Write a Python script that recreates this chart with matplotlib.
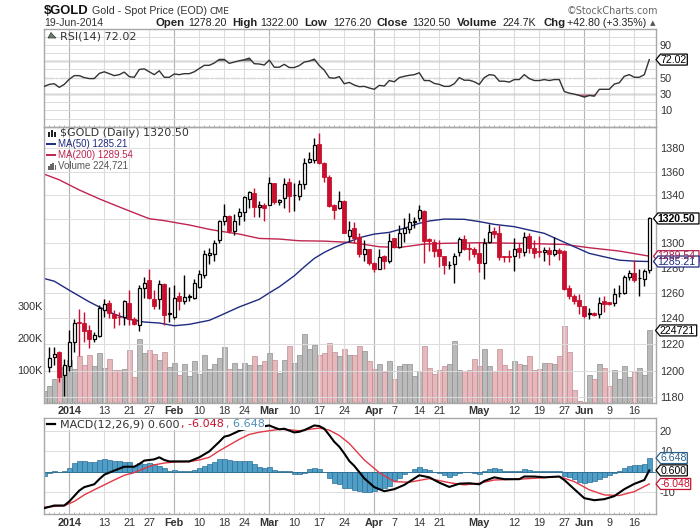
import matplotlib

matplotlib.use("Agg")

import matplotlib.pyplot as plt
import numpy as np
from matplotlib.lines import Line2D
from matplotlib.patches import Polygon, Rectangle
from matplotlib.ticker import FixedLocator, FuncFormatter, NullFormatter

plt.rcParams["font.family"] = ["Liberation Sans", "DejaVu Sans"]

# daily candles, bar 0 is the first one on screen, bar 120 is 19-Jun
opens = [1202.5, 1210.2, 1214, 1196.7, 1203.8, 1221.7, 1236.9, 1236.7, 1230.7, 1224.3,
         1226.3, 1246.9, 1252.4, 1243.8, 1241.5, 1241.1, 1252.4, 1239.8, 1235.1, 1263.6,
         1270.2, 1255.6, 1255.6, 1267.5, 1243.8, 1241.1, 1257.4, 1253.7, 1257.2, 1256.4,
         1264.9, 1274.2, 1290.4, 1291, 1302.7, 1318.7, 1322.6, 1310.1, 1322.9, 1325.7,
         1336.9, 1341.9, 1329.8, 1331.8, 1331.8, 1350, 1334.6, 1337.4, 1350.9, 1340,
         1339.6, 1349.2, 1368.2, 1370.2, 1383.7, 1367.3, 1355.8, 1331.8, 1329, 1335.1,
         1306, 1312.4, 1305.2, 1291.5, 1295, 1284.2, 1279.5, 1289.9, 1285.8, 1304,
         1296.9, 1308.2, 1311.8, 1317.7, 1320.6, 1326.8, 1303.5, 1301.3, 1295, 1289.9,
         1282, 1283.6, 1293.1, 1303.2, 1295.8, 1295, 1291.8, 1284.4, 1300.8, 1310.1,
         1308.2, 1289.6, 1289.6, 1289.3, 1295.8, 1293.1, 1306, 1295.8, 1293.4, 1292.6,
         1294.5, 1291.5, 1294.5, 1293.7, 1263.6, 1258, 1254.7, 1249.5, 1243.7, 1244.3,
         1243.8, 1253.5, 1253, 1252.2, 1259.8, 1260.1, 1272.9, 1276.3, 1271.9, 1271.5,
         1278.2]
highs = [1217.9, 1217.9, 1214.5, 1208.9, 1230.7, 1239.8, 1247.7, 1245, 1234.6, 1229.4,
         1250.3, 1255, 1254.3, 1246.4, 1245, 1254.3, 1262.2, 1241.1, 1266.2, 1272.9,
         1279.5, 1262.2, 1270.2, 1268, 1264.9, 1266.2, 1260.9, 1274.2, 1259.5, 1271,
         1278.2, 1294.5, 1295.9, 1302.7, 1319.3, 1332.6, 1323.4, 1324, 1329, 1339.5,
         1343.6, 1345.8, 1335, 1333, 1355.8, 1350.2, 1336.8, 1354.3, 1354.3, 1350,
         1353, 1371.7, 1376.8, 1389.5, 1393.2, 1368.2, 1357.2, 1332.4, 1343.6, 1335.7,
         1318.4, 1317.3, 1308.2, 1302.7, 1295, 1285, 1295.3, 1290.2, 1308.2, 1304.6,
         1315.1, 1321.2, 1324.9, 1322, 1331.8, 1327.6, 1304, 1303.5, 1302.7, 1290,
         1285.5, 1291.8, 1305.4, 1306.8, 1300, 1297.2, 1301.3, 1304.6, 1315.6, 1313.7,
         1315.1, 1290, 1294.5, 1304, 1300, 1309.5, 1308.2, 1302.7, 1306, 1297.2,
         1297.2, 1304.8, 1295.8, 1294.5, 1266.7, 1259.6, 1259.6, 1249.7, 1248.2, 1245.1,
         1257, 1257.7, 1253.2, 1263.6, 1266.2, 1274.2, 1278.2, 1286.3, 1279.5, 1279,
         1322]
lows = [1198.7, 1204, 1191.2, 1180.7, 1200, 1214, 1211.4, 1221.7, 1217, 1221.7,
        1225.5, 1241.1, 1240.4, 1232.5, 1234.6, 1234.6, 1234.6, 1234.6, 1230, 1256.1,
        1255.6, 1247.2, 1247.7, 1235.1, 1237.2, 1239.8, 1246.4, 1251.6, 1254, 1255.6,
        1263.6, 1272.3, 1283.6, 1285.8, 1300, 1315.1, 1308.2, 1306.8, 1315.1, 1318.4,
        1329, 1322, 1322, 1318.4, 1331.5, 1332.4, 1331.8, 1329, 1326.2, 1326.8,
        1336, 1345.3, 1367.3, 1367.3, 1366.5, 1351.5, 1330.4, 1320, 1328.4, 1308.2,
        1301.3, 1300, 1289, 1285.5, 1282.3, 1276.9, 1278.8, 1279.5, 1284.4, 1295.8,
        1296.4, 1300.8, 1308.2, 1312.4, 1318.7, 1284.4, 1293.7, 1289, 1281, 1275.5,
        1279, 1268.3, 1289.9, 1294.5, 1286.3, 1289, 1276.9, 1271.5, 1300, 1304,
        1286.3, 1285, 1285, 1277.4, 1288.2, 1289.9, 1291.8, 1288.2, 1289, 1285.8,
        1282.3, 1289.9, 1286.3, 1262.2, 1255.6, 1251.1, 1243.8, 1240.4, 1239.3, 1242,
        1240.4, 1245.1, 1250.3, 1249.8, 1257, 1259.6, 1270.2, 1268.9, 1257.7, 1265.7,
        1276.2]
closes = [1209.7, 1212.7, 1195, 1204.3, 1221.7, 1236.7, 1236.4, 1230, 1224.3, 1226.8,
          1248.5, 1251.6, 1244.3, 1240.4, 1241, 1253.5, 1239.8, 1235.4, 1263.6, 1268.3,
          1256.1, 1249.5, 1267.5, 1243, 1244.2, 1256.4, 1253.7, 1256.9, 1257.6, 1268,
          1275, 1291.2, 1291.8, 1300, 1318.7, 1322.6, 1310.1, 1318.4, 1325.7, 1338.4,
          1342.4, 1329.8, 1331.8, 1329, 1350, 1334, 1336.3, 1349.8, 1339.6, 1340.2,
          1349.2, 1367.3, 1370.8, 1383, 1367, 1355, 1330.7, 1327.9, 1334.8, 1308.7,
          1311, 1304.6, 1291, 1295, 1284.2, 1279.3, 1289, 1285.8, 1302.1, 1296.6,
          1308.2, 1312.4, 1317.9, 1318, 1327.3, 1302.1, 1301.8, 1294, 1289.6, 1282.3,
          1282.2, 1289.9, 1303.2, 1295.5, 1295.2, 1291, 1284.4, 1300, 1309, 1307.4,
          1289, 1288.5, 1288.5, 1295, 1293.1, 1305.4, 1295.8, 1292.3, 1292.8, 1294.5,
          1291.2, 1294.2, 1292.3, 1262.8, 1257.4, 1253.7, 1249.5, 1241.6, 1244, 1242.5,
          1252.2, 1251.1, 1251.1, 1259.6, 1260.1, 1272.9, 1276.3, 1270.2, 1272.1, 1277.4,
          1320.5]

# moving averages, read every few bars
ma50_bars = [-1, 1, 4, 8, 10, 13, 16, 19, 22, 25, 28, 32, 34, 38, 42, 44, 46, 49, 51, 53,
             55, 57, 59, 60, 62, 65, 68, 71, 74, 76, 79, 83, 86, 89, 93, 96, 99, 102, 105,
             108, 111, 114, 117, 120]
ma50_vals = [1271.5, 1269.4, 1262.2, 1253, 1249, 1243.3, 1239.3, 1237.2, 1236.4, 1234.3,
             1235.4, 1238.5, 1241.9, 1249, 1255, 1260.1, 1264.9, 1273.7, 1280.9, 1287.7,
             1292.6, 1296.6, 1300, 1301.3, 1304.6, 1307.6, 1309, 1312.4, 1316.5, 1318.4,
             1320, 1319.8, 1317.9, 1315.6, 1313.7, 1310.9, 1308.2, 1302.7, 1297.2, 1291.8,
             1289, 1286.3, 1285.5, 1285.21]
ma200_bars = [-1, 2, 6, 10, 13, 16, 20, 23, 26, 28, 32, 34, 38, 42, 46, 50, 55, 60, 63, 66,
              70, 75, 79, 86, 94, 103, 108, 114, 120]
ma200_vals = [1357.8, 1353, 1344.4, 1336.9, 1331.8, 1326.8, 1320.3, 1318.7, 1316.5, 1315.1,
              1311.5, 1310.1, 1307.6, 1304, 1303.5, 1302.1, 1301.8, 1300.8, 1299.1, 1297.2,
              1296.6, 1299.4, 1300, 1300.5, 1300, 1299.1, 1296.4, 1293.7, 1289.54]

# volume in thousands, starts one bar left of the first candle
volumes = [37, 53, 74, 79, 111, 132, 105, 144, 118, 147, 113, 153, 108, 135, 100, 100, 105,
           163, 79, 198, 153, 163, 151, 132, 156, 111, 123, 86, 121, 84, 128, 89, 147, 105,
           119, 139, 172, 105, 122, 103, 124, 118, 144, 116, 128, 154, 132, 93, 134, 175,
           122, 147, 213, 168, 179, 147, 153, 187, 158, 144, 168, 147, 147, 176, 160, 128,
           105, 119, 95, 128, 74, 113, 121, 119, 84, 97, 176, 108, 89, 100, 113, 121, 192,
           102, 97, 100, 137, 113, 166, 113, 99, 168, 116, 103, 128, 119, 116, 144, 102,
           105, 124, 124, 121, 144, 239, 156, 39, 5, 2, 87, 72, 121, 108, 53, 100, 74, 114,
           79, 95, 108, 87, 224.721]

# one value per bar, from bar -1
rsi = [39.3, 41.7, 42.5, 38.1, 41.7, 48, 52.4, 52.4, 50, 48.8, 48.8, 55.1, 57.1, 54.8, 52.4,
       53.6, 56.7, 51.2, 50.4, 59.9, 60.7, 57.1, 53.6, 58.3, 50.4, 50.4, 54.4, 53.6, 54.8,
       54.8, 57.1, 61.1, 65, 65, 67.8, 72.2, 72.2, 67.4, 69, 70.6, 71.8, 73.8, 67, 66.6,
       65.4, 71.4, 62.7, 62.7, 66.2, 62.3, 62.3, 64.7, 69, 70.2, 72.6, 64.7, 59.1, 50, 49.2,
       51.2, 42.5, 44.1, 40.9, 38.9, 39.3, 37.3, 35.7, 40.5, 39.7, 46.4, 44.9, 50, 51.6,
       52.8, 53.6, 55.9, 46.4, 46.4, 42.9, 41.7, 39.3, 39.3, 42.5, 50, 46.8, 46.8, 44.9,
       41.7, 50, 53.6, 52.8, 45.6, 45.6, 44.5, 47.6, 47.6, 53.6, 48.8, 46.4, 46.4, 47.6,
       46.4, 47.6, 47.6, 33, 31, 29.8, 28.2, 26.2, 28.2, 27.4, 35.7, 35.7, 35.7, 42.1, 43.7,
       51.6, 53.6, 50.4, 50.4, 53.6, 72.02]
macd_hist = [-2.1, -0.8, 0.3, -0.2, 0.2, 1.6, 4.1, 5.2, 5.2, 4.7, 4.7, 5.7, 6.2, 5.9, 5.4, 5,
             4.6, 4.6, 2.9, 4.1, 3.7, 4.1, 3.6, 2.9, 1.6, 0.5, 0.8, 0.3, 0.2, 0.3, 0.8, 1.6,
             2.8, 3.7, 4.6, 6, 6.2, 5.7, 5.2, 5, 5, 5, 3.6, 2.1, 1.6, 2.3, 1, 0.5, 0.5, 0.1,
             -1.1, -1.1, -0.5, 1.1, 1.8, 1.1, 0, -3.3, -5.4, -6, -7.8, -8.1, -8.9, -9.3,
             -10.1, -10.2, -9.3, -8.6, -7.8, -7, -4.1, -3.3, -1.1, 0, 1.5, 2.3, 1.3, 0.8,
             -0.3, -0.8, -1.8, -2.4, -1.6, -0.5, -0.3, -0.3, -0.5, -1, 0.5, 1.3, 1.6, 1.1,
             0.5, 0.3, 0.3, 0.5, 1.1, 0.8, 0.5, 0.2, 0.3, 0.2, 0.3, 0.2, -2, -2.8, -3.7, -4.9,
             -5.4, -5.2, -4.4, -3.6, -2.8, -1.8, -0.8, 0.2, 1.6, 2.6, 3.1, 3.3, 3.6, 6.648]

macd_bars = [-1, 1, 3, 4, 6, 7, 9, 10, 11, 13, 15, 17, 18, 19, 21, 22, 23, 24, 28, 30, 32, 34,
             35, 36, 38, 39, 44, 45, 46, 47, 49, 50, 51, 53, 54, 55, 56, 57, 58, 59, 60, 61,
             63, 65, 67, 69, 71, 74, 76, 78, 80, 82, 84, 86, 87, 89, 91, 94, 95, 97, 99, 102,
             103, 105, 107, 109, 111, 113, 115, 117, 119, 120]
macd_vals = [-17.9, -16.6, -16.6, -14.6, -9.3, -7.6, -6.2, -3.7, -1.5, 0.5, 2.4, 2.4, 3.7, 5.4,
             6, 7, 5.7, 5, 5, 7, 9.9, 14.6, 17.1, 17.7, 20, 20.7, 22.6, 21.6, 20.7, 21, 19.2,
             19.5, 20.3, 22.6, 22.3, 21, 17.9, 14.6, 12.2, 8.9, 5.2, 2.8, -3.3, -7.6, -9.6,
             -8.6, -6.5, -1.8, -2.8, -5.4, -7.5, -5.9, -5.7, -6.2, -4.6, -2.8, -3.7, -3.7,
             -2.4, -2.4, -2.8, -2.4, -4.1, -8.6, -13, -14, -13.5, -12, -8.6, -6, -4.1, 0.6]
signal_bars = [-1, 3, 5, 7, 9, 11, 13, 15, 17, 19, 21, 23, 25, 28, 30, 32, 34, 36, 38, 40, 42,
               44, 46, 48, 50, 52, 54, 56, 58, 60, 63, 66, 69, 72, 76, 80, 83, 86, 89, 94, 98,
               102, 105, 108, 111, 114, 117, 120]
signal_vals = [-17.4, -16.7, -14.6, -11.4, -8.9, -6.5, -4.1, -1.8, -0.5, 1.6, 3.3, 4.2, 4.7,
               4.9, 5.7, 7, 10.2, 13, 15.8, 18.2, 19.3, 20, 20.7, 20.5, 20, 20.7, 21.3, 20.3,
               17.7, 13.8, 5.7, -0.5, -4.9, -5.2, -3.4, -5.4, -6.5, -5.7, -4.1, -3.7, -3.1,
               -2.4, -4.9, -8.9, -11.4, -11.7, -9.8, -6.048]

# date axis
date_bars = [4, 11, 16, 20, 25, 30, 35, 39, 44, 49, 54, 59, 65, 69, 74, 78, 86, 93, 98, 103,
             107, 112, 117]
date_labels = ["2014", "13", "21", "27", "Feb", "10", "18", "24", "Mar", "10", "17", "24", "Apr",
               "7", "14", "21", "May", "12", "19", "27", "Jun", "9", "16"]
bold_dates = ["2014", "Feb", "Mar", "Apr", "May", "Jun"]

price_ticks = [1180, 1200, 1220, 1240, 1260, 1280, 1300, 1320, 1340, 1360, 1380]
volume_ticks = [100, 200, 300]
rsi_ticks = [10, 30, 50, 70, 90]
macd_ticks = [-10, 0, 10, 20]
# these sit under a value flag on the target, so only the grid line shows
covered_ticks = [1320, 70, 0]

RED = "#c8102e"
NAVY = "#1f2a80"
CRIMSON = "#c0244f"
GRID = "#dcdcdc"
MONTH_GRID = "#b4b4b4"
FRAME = "#a8a8a8"
TEXT = "#333333"
LEGEND_FONT = "DejaVu Sans"

W, H = 700, 530
fig = plt.figure(figsize=(W / 100, H / 100), dpi=100, facecolor="white")


def panel(top, bottom):
    # axes from pixel edges measured on the target, y counted from the top
    left, right = 44.3, 656.3
    return fig.add_axes([left / W, 1 - bottom / H, (right - left) / W, (bottom - top) / H])


def tick_text(v, _=None):
    return "" if v in covered_ticks else f"{v:.0f}"


def style_panel(ax, labels=True):
    ax.set_xlim(-0.99, 121.4)
    ax.set_xticks(date_bars)
    if labels:
        ax.set_xticklabels(date_labels, fontsize=7.8, color=TEXT)
        for lab in ax.get_xticklabels():
            if lab.get_text() in bold_dates:
                lab.set_fontweight("bold")
    else:
        ax.set_xticklabels([])
    ax.set_xticks(np.arange(0, 121), minor=True)
    ax.tick_params(axis="x", which="major", length=0, pad=2.8)
    ax.tick_params(axis="x", which="minor", length=1.5, width=0.5, color="#999999", direction="in")
    for bar, lab in zip(date_bars, date_labels):
        col = MONTH_GRID if lab in bold_dates else GRID
        ax.axvline(bar, color=col, lw=0.8, zorder=0.5)
    for s in ax.spines.values():
        s.set_color(FRAME)
        s.set_linewidth(1.0)
    ax.yaxis.tick_right()
    ax.tick_params(axis="y", which="both", length=0, pad=2.5, labelsize=7.8, labelcolor=TEXT)


def px_text(x, y, s, **kw):
    kw.setdefault("va", "center")
    kw.setdefault("ha", "left")
    kw.setdefault("color", TEXT)
    return fig.text(x / W, 1 - y / H, s, **kw)


def value_tag(ax, value, label, color, right, tip=656.0, bold=False):
    # little flag on the right edge, its height comes from the axis scale
    _, y = ax.transData.transform((0, value))
    y = H - y
    pts = [(tip, y), (tip + 4.5, y - 5.5), (right, y - 5.5), (right, y + 5.5), (tip + 4.5, y + 5.5)]
    pts = [(a / W, 1 - b / H) for a, b in pts]
    fig.add_artist(Polygon(pts, closed=True, transform=fig.transFigure, facecolor="white",
                           edgecolor=color, lw=0.9, zorder=10))
    px_text(tip + 4.2, y + 0.3, label, fontsize=7.6, color=color,
            fontweight="bold" if bold else "normal", zorder=11)


# RSI panel
ax_rsi = panel(29.3, 126.7)
style_panel(ax_rsi, labels=False)
ax_rsi.set_ylim(50 - (126.7 - 78) / 0.825, 50 + (78 - 29.3) / 0.825)
ax_rsi.set_yticks(rsi_ticks)
ax_rsi.set_yticklabels([tick_text(v) for v in rsi_ticks])
ax_rsi.set_yticks(np.arange(-10, 110, 10), minor=True)
ax_rsi.grid(axis="y", which="both", color=GRID, lw=0.7, zorder=0.5)
ax_rsi.axhline(70, color="#555555", lw=0.9, zorder=1)
ax_rsi.axhline(30, color="#555555", lw=0.9, zorder=1)
ax_rsi.axhline(50, color="#555555", lw=0.8, ls=(0, (8, 2, 2, 2)), zorder=1)
rsi_x = np.arange(-1, 121)
rsi_arr = np.array(rsi)
ax_rsi.fill_between(rsi_x, 70, rsi_arr, where=rsi_arr > 70, interpolate=True, color="#6f7f6f", lw=0, zorder=2)
ax_rsi.fill_between(rsi_x, 30, rsi_arr, where=rsi_arr < 30, interpolate=True, color="#b06a78", lw=0, zorder=2)
ax_rsi.plot(rsi_x, rsi_arr, color="#333333", lw=1.0, zorder=3)

# price panel, volume sits behind the candles on its own linear scale
ax = panel(126.7, 402.5)
ax_vol = ax.twinx()
ax.set_yscale("log")
ax.set_ylim(1176.1, 1399)
style_panel(ax)
ax.yaxis.set_major_locator(FixedLocator(price_ticks))
ax.yaxis.set_major_formatter(FuncFormatter(tick_text))
ax.yaxis.set_minor_formatter(NullFormatter())
ax.yaxis.set_minor_locator(FixedLocator([]))
ax.grid(axis="y", color=GRID, lw=0.7, zorder=0.5)

opens_a, highs_a, lows_a, closes_a = map(np.array, (opens, highs, lows, closes))
bars = np.arange(len(closes))
up = closes_a >= opens_a

vol_x = np.arange(-1, 121)
vol_up = np.concatenate([[True], up])
ax_vol.bar(vol_x, volumes, width=1.0, color=np.where(vol_up, "#bababa", "#e8b7bb"),
           edgecolor=np.where(vol_up, "#8e8e8e", "#b98f93"), lw=0.5, zorder=1)
ax_vol.set_ylim(0, 860)
ax_vol.yaxis.tick_left()
ax_vol.set_yticks(volume_ticks)
ax_vol.set_yticklabels([f"{v}K" for v in volume_ticks], fontsize=7.8, color=TEXT)
ax_vol.tick_params(axis="y", length=0, pad=1)
for s in ax_vol.spines.values():
    s.set_visible(False)
ax_vol.set_zorder(1)
ax.set_zorder(2)
ax.patch.set_visible(False)

ax.plot(ma200_bars, ma200_vals, color=CRIMSON, lw=1.0, zorder=2)
ax.plot(ma50_bars, ma50_vals, color=NAVY, lw=1.0, zorder=2)
ax.vlines(bars[up], lows_a[up], highs_a[up], color="black", lw=1.0, zorder=3)
ax.vlines(bars[~up], lows_a[~up], highs_a[~up], color=RED, lw=1.0, zorder=3)
ax.bar(bars[up], (closes_a - opens_a)[up], bottom=opens_a[up], width=0.68, color="white",
       edgecolor="black", lw=0.9, zorder=4)
ax.bar(bars[~up], (closes_a - opens_a)[~up], bottom=opens_a[~up], width=0.72, color=RED,
       edgecolor=RED, lw=0.6, zorder=4)

# MACD panel
ax_macd = panel(417.7, 514.3)
style_panel(ax_macd)
ax_macd.set_ylim(-20.9, 26.4)
ax_macd.set_yticks(macd_ticks)
ax_macd.set_yticklabels([tick_text(v) for v in macd_ticks])
ax_macd.grid(axis="y", color=GRID, lw=0.7, zorder=0.5)
ax_macd.bar(np.arange(-1, 121), macd_hist, width=0.95, color="#4f9ec8", edgecolor="#2f6f94", lw=0.5, zorder=2)
ax_macd.axhline(0, color="#2f6f94", lw=0.6, zorder=2)
ax_macd.plot(signal_bars, signal_vals, color="#e23744", lw=1.0, zorder=3)
ax_macd.plot(macd_bars, macd_vals, color="black", lw=1.5, zorder=4)

# the tags need final transforms
value_tag(ax_rsi, 72.02, "72.02", "black", 687.3)
value_tag(ax, 1289.54, "1289.54", "#b0204a", 699, tip=653.5)
value_tag(ax, 1285.21, "1285.21", NAVY, 699, tip=653.5)
value_tag(ax, 1320.5, "1320.50", "black", 699, tip=653.5, bold=True)
value_tag(ax_vol, 224.721, "224721", "black", 696.7, tip=655.5)
value_tag(ax_macd, 6.648, "6.648", "#2c5f8a", 687.3)
value_tag(ax_macd, 0.6, "0.600", "black", 687.3)
value_tag(ax_macd, -6.048, "-6.048", RED, 690.7)

# header
px_text(43.5, 10.5, "$GOLD", fontsize=9.4, fontweight="bold", color="#111111")
px_text(91.5, 10.5, "Gold - Spot Price (EOD)", fontsize=7.7)
px_text(210, 11, "CME", fontsize=6.6, family=LEGEND_FONT)
px_text(44.5, 23.5, "19-Jun-2014", fontsize=7.6)
px_text(649.5, 23.5, "\u25b2", fontsize=5.2, color="#555555", family="DejaVu Sans")
for x, s, is_bold in [(156, "Open", True), (188.5, "1278.20", False), (232.7, "High", True),
                      (260.7, "1322.00", False), (304, "Low", True), (333, "1276.20", False),
                      (376.7, "Close", True), (412.7, "1320.50", False), (456.7, "Volume", True),
                      (502.7, "224.7K", False), (543.3, "Chg", True), (567.3, "+42.80 (+3.35%)", False)]:
    px_text(x, 23.5, s, fontsize=8.2 if is_bold else 7.7, fontweight="bold" if is_bold else "normal", color="#222222")
px_text(566.5, 10.5, "\u00a9StockCharts.com", fontsize=6.9, color="#666666", family="DejaVu Sans")

# panel legends
px_text(59.5, 36.5, "RSI(14) 72.02", fontsize=8.0, family=LEGEND_FONT)
px_text(59.5, 133.5, "$GOLD (Daily) 1320.50", fontsize=8.0, family=LEGEND_FONT)
px_text(57.5, 144.3, "MA(50) 1285.21", fontsize=7.0, color=NAVY)
px_text(57.5, 155, "MA(200) 1289.54", fontsize=7.0, color=CRIMSON)
px_text(57.5, 165.7, "Volume 224,721", fontsize=7.0, color="#555555")
for y, col in [(144.3, NAVY), (155, CRIMSON)]:
    fig.add_artist(Line2D([47.5 / W, 55.5 / W], [1 - y / H, 1 - y / H], color=col, lw=1.4, zorder=10))
for x0, h in [(48, 4), (50.2, 6), (52.4, 7), (54.6, 5)]:
    fig.add_artist(Rectangle((x0 / W, 1 - 169.5 / H), 1.6 / W, h / H, transform=fig.transFigure,
                             facecolor="#666666", edgecolor="none", zorder=10))
for x0, h in [(48, 5), (51, 7), (54, 5)]:
    fig.add_artist(Rectangle((x0 / W, 1 - 136.5 / H), 1.8 / W, h / H, transform=fig.transFigure,
                             facecolor="#222222", edgecolor="none", zorder=10))
fig.add_artist(Polygon([(48 / W, 1 - 38 / H), (51 / W, 1 - 32.5 / H), (53 / W, 1 - 35 / H), (56 / W, 1 - 38 / H)],
                       closed=True, transform=fig.transFigure, facecolor="#6f7f6f", edgecolor="#333333", lw=0.5, zorder=10))

# MACD legend has a white strip behind it, it hides the lines
fig.add_artist(Rectangle((46 / W, 1 - 430 / H), 219 / W, 11 / H, transform=fig.transFigure,
                         facecolor="white", edgecolor="none", zorder=9))
fig.add_artist(Line2D([47.5 / W, 55.5 / W], [1 - 424.3 / H, 1 - 424.3 / H], color="black", lw=1.6, zorder=10))
px_text(59.5, 424.5, "MACD(12,26,9) 0.600", fontsize=8.0, family=LEGEND_FONT, zorder=10)
px_text(181, 424.5, ", -6.048", fontsize=8.0, family=LEGEND_FONT, color=RED, zorder=10)
px_text(226.5, 424.5, ", 6.648", fontsize=8.0, family=LEGEND_FONT, color="#4f8fb8", zorder=10)

fig.savefig("out.png", dpi=100)
plt.close(fig)
